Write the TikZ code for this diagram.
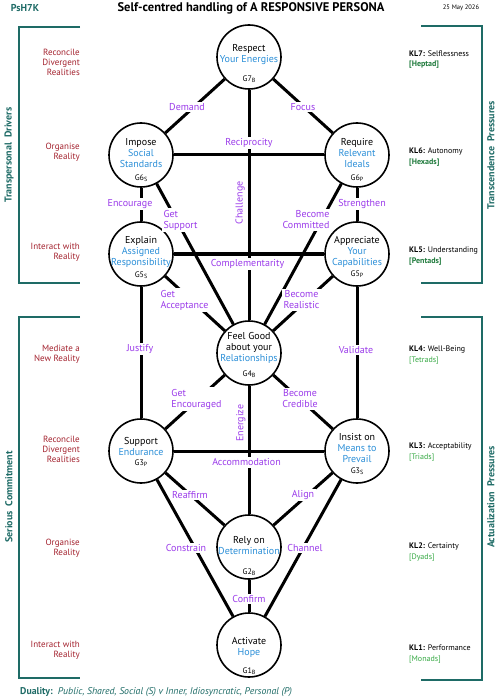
\documentclass[tikz,border=0pt]{standalone}
\usepackage{fontspec}
\setmainfont{PT Sans}
\usetikzlibrary{backgrounds}
\definecolor{nblue}{HTML}{2B8FD8}
\definecolor{lpurple}{HTML}{9B3BEA}
\definecolor{dred}{HTML}{A3222E}
\definecolor{teal2}{HTML}{1E6B66}
\definecolor{dgreen}{HTML}{1F7A3C}
\definecolor{lgreen}{HTML}{35A843}
\newcommand{\gsub}[1]{\raisebox{-0.3ex}{\fontsize{6}{6}\selectfont #1}}
\tikzset{
 gnode/.style={circle, draw=black, line width=1.6pt, fill=white, minimum size=64pt, inner sep=0pt},
 ntext/.style={font=\fontsize{10}{11}\selectfont, align=center, inner sep=0pt},
 gtag/.style={font=\fontsize{8}{8}\selectfont, inner sep=0pt},
 conn/.style={line width=3pt, draw=black},
 elab/.style={font=\fontsize{10}{11}\selectfont, text=lpurple, fill=white, inner sep=1.5pt},
 vlab/.style={font=\fontsize{10}{11}\selectfont, text=lpurple, inner sep=0pt, rotate=90},
 lvl/.style={font=\fontsize{9}{10}\selectfont, text=dred, align=right, anchor=east, inner sep=0pt},
 kl/.style={font=\fontsize{8}{10.5}\selectfont, align=left, anchor=west, inner sep=0pt},
 brk/.style={draw=teal2, line width=1.8pt},
 side/.style={font=\fontsize{10}{10}\selectfont\bfseries, text=teal2, rotate=90, inner sep=0pt},
}
\begin{document}
\begin{tikzpicture}[x=1pt,y=-1pt]
\useasboundingbox (0,0) rectangle (498,700);
% header
\node[font=\fontsize{10}{10}\selectfont\bfseries, text=teal2] (hdr) at (25,8) {PsH7K};
\node[font=\fontsize{12.5}{13}\selectfont\bfseries] (title) at (251,8) {Self-centred handling of A RESPONSIVE PERSONA};
\node[font=\fontsize{6.5}{6.5}\selectfont] (date) at (461,8) {25 May 2026};
% circles
\node[gnode] (g7) at (249,57) {};
\node[gnode] (g6s) at (141,155) {};
\node[gnode] (g6p) at (357,155) {};
\node[gnode] (g5s) at (141,254) {};
\node[gnode] (g5p) at (357,254) {};
\node[gnode] (g4) at (249,353) {};
\node[gnode] (g3p) at (141,451) {};
\node[gnode] (g3s) at (357,451) {};
\node[gnode] (g2) at (249,547) {};
\node[gnode] (g1) at (249,645) {};
% connectors
\begin{scope}[on background layer]
\draw[conn] (g7) -- (g6s);
\draw[conn] (g7) -- (g6p);
\draw[conn] (g7) -- (g4);
\draw[conn] (g6s) -- (g6p);
\draw[conn] (g6s) -- (g5s);
\draw[conn] (g6p) -- (g5p);
\draw[conn] (g6s) -- (g4);
\draw[conn] (g6p) -- (g4);
\draw[conn] (g5s) -- (g5p);
\draw[conn] (g5s) -- (g4);
\draw[conn] (g5p) -- (g4);
\draw[conn] (g5s) -- (g3p);
\draw[conn] (g5p) -- (g3s);
\draw[conn] (g4) -- (g3p);
\draw[conn] (g4) -- (g3s);
\draw[conn] (g4) -- (g2);
\draw[conn] (g3p) -- (g3s);
\draw[conn] (g3p) -- (g2);
\draw[conn] (g3s) -- (g2);
\draw[conn] (g3p) -- (g1);
\draw[conn] (g3s) -- (g1);
\draw[conn] (g2) -- (g1);
\end{scope}
% edge labels
\node[elab] (lDemand) at (187,107) {Demand};
\node[elab] (lFocus) at (303,107) {Focus};
\node[elab] (lRecip) at (249,143) {Reciprocity};
\node[vlab] (lChall) at (240,203) {Challenge};
\node[elab] (lEnc) at (130,204) {Encourage};
\node[elab] (lStr) at (362,204) {Strengthen};
\node[elab, align=left] (lGS) at (180.5,220) {Get\\Support};
\node[elab, align=right] (lBC) at (306,220) {Become\\Committed};
\node[elab] (lComp) at (247.5,264) {Complementarity};
\node[elab, align=left] (lGA) at (184.5,300) {Get\\Acceptance};
\node[elab, align=center] (lBR) at (301.5,300) {Become\\Realistic};
\node[elab] (lJus) at (140,349) {Justify};
\node[elab] (lVal) at (356,350) {Validate};
\node[elab, align=left] (lGE) at (196.5,399) {Get\\Encouraged};
\node[elab, align=center] (lBCr) at (300,399) {Become\\Credible};
\node[vlab] (lEne) at (241,423) {Energize};
\node[elab] (lAcc) at (246.5,462.5) {Accommodation};
\node[elab] (lRea) at (190,495) {Reaffirm};
\node[elab] (lAli) at (303,495) {Align};
\node[elab] (lCon) at (186,548) {Constrain};
\node[elab] (lCha) at (305,548) {Channel};
\node[elab] (lConf) at (249,599) {Confirm};
% node texts
\node[ntext] (t7) at (249,55) {Respect\\\textcolor{nblue}{Your Energies}};
\node[gtag] (k7) at (249,79) {G7\gsub{B}};
\node[ntext] (t6s) at (141,153) {Impose\\\textcolor{nblue}{Social}\\\textcolor{nblue}{Standards}};
\node[gtag] (k6s) at (141,178) {G6\gsub{S}};
\node[ntext] (t6p) at (357,153) {Require\\\textcolor{nblue}{Relevant}\\\textcolor{nblue}{Ideals}};
\node[gtag] (k6p) at (357,178) {G6\gsub{P}};
\node[ntext] (t5s) at (141,252) {Explain\\\textcolor{nblue}{Assigned}\\\textcolor{nblue}{Responsibility}};
\node[gtag] (k5s) at (141,275) {G5\gsub{S}};
\node[ntext] (t5p) at (357,252) {Appreciate\\\textcolor{nblue}{Your}\\\textcolor{nblue}{Capabilities}};
\node[gtag] (k5p) at (357,274) {G5\gsub{P}};
\node[ntext] (t4) at (249,348) {Feel Good\\about your\\\textcolor{nblue}{Relationships}};
\node[gtag] (k4) at (249,374) {G4\gsub{B}};
\node[ntext] (t3p) at (141,446.5) {Support\\\textcolor{nblue}{Endurance}};
\node[gtag] (k3p) at (141,463) {G3\gsub{P}};
\node[ntext] (t3s) at (357,448) {Insist on\\\textcolor{nblue}{Means to}\\\textcolor{nblue}{Prevail}};
\node[gtag] (k3s) at (357,471) {G3\gsub{S}};
\node[ntext] (t2) at (249,546) {Rely on\\\textcolor{nblue}{Determination}};
\node[gtag] (k2) at (249,572) {G2\gsub{B}};
\node[ntext] (t1) at (249,647.5) {Activate\\\textcolor{nblue}{Hope}};
\node[gtag] (k1) at (249,671) {G1\gsub{B}};
% left level labels
\node[lvl] (r7) at (80,62) {Reconcile\\Divergent\\Realities};
\node[lvl] (r6) at (80,152) {Organise\\Reality};
\node[lvl] (r5) at (80,252) {Interact with\\Reality};
\node[lvl] (r4) at (80,354) {Mediate a\\New Reality};
\node[lvl] (r3) at (80,449) {Reconcile\\Divergent\\Realities};
\node[lvl] (r2) at (80,548) {Organise\\Reality};
\node[lvl] (r1) at (80,650) {Interact with\\Reality};
% right KL labels
\node[kl] (q7) at (409,59.5) {\textbf{KL7:} Selflessness\\\textcolor{dgreen}{\textbf{[Heptad]}}};
\node[kl] (q6) at (409,157) {\textbf{KL6:} Autonomy\\\textcolor{dgreen}{\textbf{[Hexads]}}};
\node[kl] (q5) at (409,256) {\textbf{KL5:} Understanding\\\textcolor{dgreen}{\textbf{[Pentads]}}};
\node[kl] (q4) at (409,355) {\textbf{KL4:} Well-Being\\\textcolor{lgreen}{[Tetrads]}};
\node[kl] (q3) at (409,452) {\textbf{KL3:} Acceptability\\\textcolor{lgreen}{[Triads]}};
\node[kl] (q2) at (409,552) {\textbf{KL2:} Certainty\\\textcolor{lgreen}{[Dyads]}};
\node[kl] (q1) at (409,654) {\textbf{KL1:} Performance\\\textcolor{lgreen}{[Monads]}};
% brackets
\draw[brk] (80,27) -- (19,27) -- (19,283) -- (80,283);
\draw[brk] (80,317) -- (19,317) -- (19,678) -- (80,678);
\draw[brk] (421,26) -- (482,26) -- (482,283) -- (421,283);
\draw[brk] (421,317) -- (482,317) -- (482,680) -- (421,680);
\node[side] (s1) at (9,155) {Transpersonal\ \ Drivers};
\node[side] (s2) at (9,497) {Serious\ \ Commitment};
\node[side] (s3) at (491,155) {Transcendence\ \ Pressures};
\node[side] (s4) at (491,497) {Actualization\ \ Pressures};
% footer
\node[anchor=west, font=\fontsize{9.8}{10}\selectfont, text=teal2, inner sep=0pt] (foot) at (20,692) {\textbf{Duality:}\ \ \textit{Public, Shared, Social (S)\ v\ Inner, Idiosyncratic, Personal (P)}};
\end{tikzpicture}
\end{document}
